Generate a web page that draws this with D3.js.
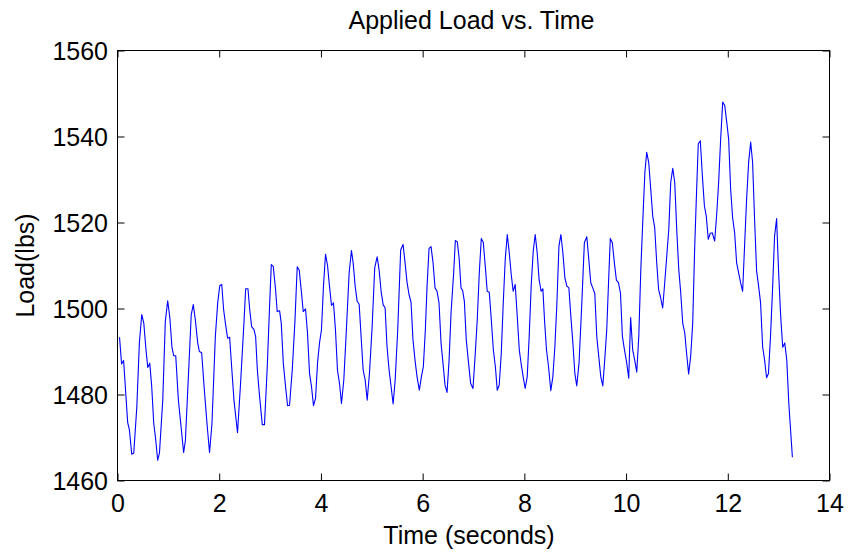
<!DOCTYPE html>
<html>
<head>
<meta charset="utf-8">
<script src="https://cdn.jsdelivr.net/npm/d3@7"></script>
<style>
  html, body { margin: 0; padding: 0; background: #fff; }
  svg { display: block; }
  text { font-family: "Liberation Sans", Arial, Helvetica, sans-serif; fill: #000; }
</style>
</head>
<body>
<svg id="chart" width="849" height="557"></svg>
<script>
const titleText = "Applied Load vs. Time";
const xLabel = "Time (seconds)";
const yLabel = "Load(lbs)";
const xTicks = [0, 2, 4, 6, 8, 10, 12, 14];
const yTicks = [1460, 1480, 1500, 1520, 1540, 1560];

const time = [
0.04,0.08,0.12,0.20,0.235,0.28,0.32,0.38,0.43,0.477,0.517,0.56,0.595,0.634,0.673,0.713,0.746,0.79,0.825,0.89,
0.94,0.987,1.03,1.07,1.105,1.145,1.197,1.25,1.30,1.335,1.40,1.45,1.49,1.53,1.577,1.61,1.655,1.708,1.76,1.81,
1.857,1.924,1.97,2.01,2.05,2.087,2.126,2.165,2.205,2.244,2.29,2.36,2.42,2.486,2.52,2.565,2.6,2.637,2.68,2.716,
2.75,2.794,2.847,2.89,2.945,2.99,3.024,3.063,3.108,3.14,3.187,3.22,3.26,3.305,3.344,3.383,3.436,3.487,3.534,3.574,
3.618,3.652,3.697,3.736,3.776,3.815,3.854,3.894,3.933,3.972,4.01,4.05,4.09,4.13,4.168,4.208,4.247,4.286,4.325,4.365,
4.404,4.45,4.50,4.555,4.6,4.634,4.673,4.712,4.752,4.79,4.83,4.87,4.91,4.954,5.007,5.058,5.105,5.144,5.183,5.223,
5.262,5.30,5.34,5.38,5.42,5.46,5.51,5.568,5.615,5.655,5.694,5.733,5.772,5.81,5.85,5.89,5.935,5.975,6.014,6.053,
6.087,6.126,6.165,6.205,6.244,6.283,6.322,6.362,6.40,6.44,6.48,6.52,6.558,6.61,6.643,6.682,6.72,6.754,6.786,6.82,
6.858,6.897,6.943,6.99,7.035,7.074,7.114,7.153,7.192,7.232,7.27,7.31,7.35,7.39,7.43,7.467,7.506,7.546,7.585,7.624,
7.664,7.703,7.742,7.78,7.82,7.86,7.9,7.94,7.977,8.016,8.056,8.095,8.134,8.174,8.213,8.252,8.29,8.33,8.364,8.396,
8.435,8.475,8.52,8.56,8.6,8.64,8.68,8.718,8.757,8.797,8.836,8.875,8.914,8.954,8.993,9.03,9.075,9.13,9.18,9.228,
9.267,9.306,9.345,9.385,9.424,9.463,9.503,9.542,9.58,9.62,9.66,9.69,9.73,9.77,9.81,9.85,9.89,9.928,9.968,10.013,
10.052,10.09,10.13,10.17,10.21,10.25,10.29,10.33,10.37,10.406,10.445,10.485,10.524,10.563,10.603,10.64,10.68,10.72,10.76,10.8,
10.84,10.878,10.918,10.957,10.996,11.036,11.075,11.114,11.154,11.19,11.23,11.27,11.31,11.35,11.39,11.42,11.46,11.5,11.54,11.577,
11.616,11.655,11.695,11.742,11.78,11.82,11.86,11.9,11.94,11.98,12.017,12.056,12.095,12.135,12.174,12.213,12.252,12.292,12.33,12.37,
12.41,12.45,12.488,12.527,12.567,12.606,12.645,12.685,12.724,12.763,12.8,12.84,12.88,12.92,12.96,13.0,13.04,13.08,13.12,13.16,
13.2,13.235,13.27
];

const load = [
1493.3,1487.1,1487.9,1473.5,1471.7,1466.1,1466.4,1477.1,1492,1498.6,1496.6,1490.4,1486.3,1487.3,1481.8,1473.2,1470.1,1464.7,1466.4,1478.7,
1497,1501.8,1497.8,1491.1,1489,1489,1478.7,1472.5,1466.5,1469.3,1485.7,1498.6,1500.9,1497.4,1492,1490,1489.7,1481,1473.2,1466.5,
1473.2,1493.5,1501.3,1505.3,1505.6,1499.7,1496.2,1493.1,1493.3,1486.5,1478.7,1471.1,1482.6,1496.6,1504.6,1504.6,1499.7,1495.8,1495.2,1493.5,
1485.7,1479.5,1473,1473,1486.5,1500.5,1510.2,1509.8,1504.4,1499.3,1499.5,1496.6,1487.3,1481.8,1477.4,1477.5,1485.7,1496.6,1509.7,1508.9,
1503.6,1499.3,1499.9,1494.3,1484.9,1481.8,1477.4,1479.1,1487.3,1492,1495,1505.2,1512.6,1510,1505.2,1500.7,1501.3,1495,1485.7,1482.6,
1477.9,1483.4,1495,1508.3,1513.5,1510.6,1505.2,1501.7,1501,1493.5,1485.7,1483.4,1478.7,1484.9,1495.8,1509.5,1512,1509,1504,1500.9,
1500.1,1491.1,1485.7,1481.8,1477.8,1483.4,1495,1513.6,1514.9,1510.6,1506,1503.2,1501.4,1492.7,1488,1484.1,1481,1484.1,1486.5,1495,
1505.2,1514,1514.4,1510.6,1504.8,1504,1501.3,1491.9,1487.3,1482.2,1480.5,1488,1498.9,1508.3,1515.8,1515.5,1511.4,1504.8,1504.2,1501.7,
1492.7,1488,1482.6,1481.4,1489.6,1497.4,1508.3,1516.3,1515.4,1509.8,1504,1503.8,1497.4,1490.4,1486.5,1481,1482.2,1489.6,1501.3,1511.4,
1517.2,1513,1507.9,1504,1505.6,1498.2,1490.4,1486.9,1484.1,1481.4,1484.1,1493.5,1505.2,1513.3,1517.2,1513,1506.7,1504,1504.6,1497.4,
1490.4,1486.5,1480.9,1484.1,1491.1,1501.3,1514.5,1517.2,1513,1507.1,1505.2,1504.8,1498.2,1492,1484.9,1482,1487.3,1501.3,1515.3,1516.7,
1511.4,1506,1504.8,1503.5,1493.5,1488.8,1484.1,1482,1488,1495,1507.5,1516.3,1515.3,1510.6,1506.6,1506,1503.6,1493.5,1490.4,1487.3,
1483.8,1497.9,1490.4,1488,1485.2,1493.5,1509.1,1520.7,1531.7,1536.3,1534,1527.8,1521.5,1518.8,1510.6,1504.4,1502.5,1500.1,1506,1512.2,
1518.4,1529.3,1532.6,1529.3,1518.4,1509.1,1503.6,1496.6,1494.3,1489.6,1484.8,1488.8,1496.6,1514.5,1528.5,1538.3,1539,1530.9,1523.9,1521.5,
1516.1,1517.5,1517.6,1515.7,1521.5,1529.3,1539.4,1548,1547.2,1543.3,1539.4,1527.8,1521.1,1517.6,1510.6,1508.3,1506,1504,1514.5,1525.4,
1534,1538.7,1534,1520.7,1508.7,1505.2,1501.3,1491.1,1488,1483.9,1484.9,1493.5,1504.4,1516.8,1520.9,1508.3,1498.2,1491,1492,1488,
1477.9,1471.7,1465.4
];

const svg = d3.select("#chart");
const pLeft = 117.5, pRight = 829.5, pTop = 50.5, pBottom = 480.5;
const fontSize = 25;
const tickLen = 7;

const x = d3.scaleLinear().domain([0, 14]).range([pLeft, pRight]);
const y = d3.scaleLinear().domain([1460, 1560]).range([pBottom, pTop]);

// data line
const pts = time.map((t, i) => [t, load[i]]);
const line = d3.line().x(d => x(d[0])).y(d => y(d[1]));
svg.append("path")
  .datum(pts)
  .attr("d", line)
  .attr("fill", "none")
  .attr("stroke", "#0000ff")
  .attr("stroke-width", 1.1)
  .attr("stroke-linejoin", "round");

// axes (inward ticks, mirrored)
const fmt = d3.format("d");
const xBottom = d3.axisBottom(x).tickValues(xTicks).tickFormat(fmt).tickSizeInner(-tickLen).tickSizeOuter(0);
const xTop = d3.axisTop(x).tickValues(xTicks).tickSizeInner(-tickLen).tickSizeOuter(0).tickFormat("");
const yLeft = d3.axisLeft(y).tickValues(yTicks).tickFormat(fmt).tickSizeInner(-tickLen).tickSizeOuter(0);
const yRight = d3.axisRight(y).tickValues(yTicks).tickSizeInner(-tickLen).tickSizeOuter(0).tickFormat("");

function style(g) {
  g.select(".domain").remove();
  g.selectAll(".tick line").attr("stroke", "#000").attr("stroke-width", 1);
  g.selectAll(".tick text").attr("font-size", fontSize)
    .attr("font-family", "'Liberation Sans', Arial, Helvetica, sans-serif").attr("fill", "#000");
}
svg.append("g").attr("transform", `translate(0,${pBottom})`).call(xBottom).call(style)
  .selectAll(".tick text").attr("dy", null).attr("y", 31);
svg.append("g").attr("transform", `translate(0,${pTop})`).call(xTop).call(style);
svg.append("g").attr("transform", `translate(${pLeft},0)`).call(yLeft).call(style)
  .selectAll(".tick text").attr("dy", "0.35em").attr("x", -9.5);
svg.append("g").attr("transform", `translate(${pRight},0)`).call(yRight).call(style);

// box
svg.append("rect")
  .attr("x", pLeft).attr("y", pTop)
  .attr("width", pRight - pLeft).attr("height", pBottom - pTop)
  .attr("fill", "none").attr("stroke", "#000").attr("stroke-width", 1);

// title and labels
svg.append("text").attr("x", 471.5).attr("y", 29)
  .attr("text-anchor", "middle").attr("font-size", fontSize).text(titleText);
svg.append("text").attr("x", 469).attr("y", 544)
  .attr("text-anchor", "middle").attr("font-size", fontSize).text(xLabel);
svg.append("text")
  .attr("transform", `translate(34,${(pTop + pBottom) / 2}) rotate(-90)`)
  .attr("text-anchor", "middle").attr("font-size", fontSize).text(yLabel);
</script>
</body>
</html>
